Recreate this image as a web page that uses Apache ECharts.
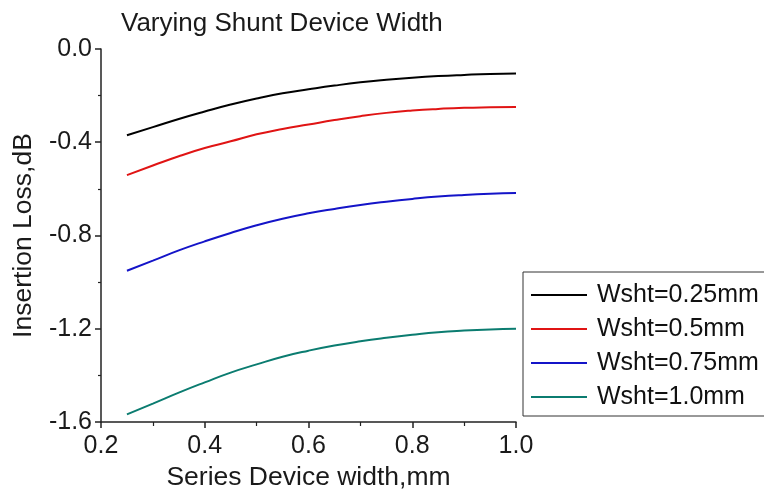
<!DOCTYPE html>
<html>
<head>
<meta charset="utf-8">
<script src="https://cdn.jsdelivr.net/npm/echarts@6/dist/echarts.min.js"></script>
<style>html,body{margin:0;padding:0;background:#fff;}#c{width:764px;height:498px;}</style>
</head>
<body>
<div id="c"></div>
<script>
const seriesWidth = [0.25, 0.3, 0.35, 0.4, 0.45, 0.5, 0.55, 0.6, 0.65, 0.7, 0.75, 0.8, 0.85, 0.9, 0.95, 1.0];
const wsht025 = [-0.370, -0.335, -0.300, -0.268, -0.238, -0.212, -0.190, -0.173, -0.157, -0.143, -0.132, -0.123, -0.116, -0.111, -0.107, -0.105];
const wsht05  = [-0.541, -0.500, -0.460, -0.425, -0.396, -0.366, -0.343, -0.324, -0.305, -0.288, -0.274, -0.264, -0.257, -0.252, -0.250, -0.249];
const wsht075 = [-0.951, -0.908, -0.864, -0.825, -0.789, -0.756, -0.728, -0.705, -0.686, -0.669, -0.655, -0.643, -0.633, -0.626, -0.621, -0.618];
const wsht10  = [-1.567, -1.521, -1.474, -1.430, -1.388, -1.353, -1.320, -1.294, -1.272, -1.254, -1.239, -1.226, -1.215, -1.208, -1.203, -1.200];
const seriesNames = ['Wsht=0.25mm', 'Wsht=0.5mm', 'Wsht=0.75mm', 'Wsht=1.0mm'];
const seriesValues = [wsht025, wsht05, wsht075, wsht10];
const colors = ['#000000', '#e01414', '#1414c8', '#0b7c70'];

const FONT = 'Liberation Sans, Arial, sans-serif';
const chart = echarts.init(document.getElementById('c'), null, {renderer: 'canvas'});
chart.setOption({
  animation: false,
  backgroundColor: '#ffffff',
  title: {
    text: 'Varying Shunt Device Width',
    left: 116, top: 6,
    textStyle: {fontFamily: FONT, fontSize: 26, fontWeight: 'normal', color: '#1a1a1a'}
  },
  legend: {
    orient: 'vertical',
    left: 523, top: 272,
    itemWidth: 56, itemHeight: 14, itemGap: 8,
    padding: [10, 60, 6, 8],
    borderColor: '#333', borderWidth: 1,
    data: seriesNames.map((n, i) => ({name: n, icon: 'path://M0,0 L56,0 L56,2 L0,2 Z', itemStyle: {color: colors[i]}})),
    textStyle: {fontFamily: FONT, fontSize: 25, color: '#111', lineHeight: 26, padding: [0, 0, 0, 5]}
  },
  grid: {left: 101, right: 248, top: 49, bottom: 76, containLabel: false},
  xAxis: {
    type: 'value', min: 0.2, max: 1.0, interval: 0.2,
    name: 'Series Device width,mm', nameLocation: 'middle', nameGap: 34,
    nameTextStyle: {fontFamily: FONT, fontSize: 26.5, color: '#1a1a1a'},
    axisLine: {show: true, onZero: false, lineStyle: {color: '#222', width: 1.5}},
    axisTick: {show: true, inside: false, length: 6, lineStyle: {color: '#222', width: 1.5}},
    minorTick: {show: true, splitNumber: 2, length: 4, lineStyle: {color: '#222', width: 1.2}},
    splitLine: {show: false},
    axisLabel: {fontFamily: FONT, fontSize: 25, color: '#1a1a1a', margin: 12, formatter: v => v.toFixed(1)}
  },
  yAxis: {
    type: 'value', min: -1.6, max: 0, interval: 0.4,
    name: 'Insertion Loss,dB', nameLocation: 'middle', nameGap: 64, nameRotate: 90,
    nameTextStyle: {fontFamily: FONT, fontSize: 26.5, color: '#1a1a1a'},
    axisLine: {show: true, onZero: false, lineStyle: {color: '#222', width: 1.5}},
    axisTick: {show: true, inside: false, length: 6, lineStyle: {color: '#222', width: 1.5}},
    minorTick: {show: true, splitNumber: 2, length: 3, lineStyle: {color: '#222', width: 1.2}},
    splitLine: {show: false},
    axisLabel: {fontFamily: FONT, fontSize: 25, color: '#1a1a1a', margin: 9, formatter: v => v.toFixed(1)}
  },
  series: seriesNames.map((n, i) => ({
    name: n, type: 'line', smooth: true, showSymbol: false, symbol: 'none',
    lineStyle: {color: colors[i], width: 2},
    itemStyle: {color: colors[i]},
    data: seriesWidth.map((x, j) => [x, seriesValues[i][j]])
  }))
});
</script>
</body>
</html>
